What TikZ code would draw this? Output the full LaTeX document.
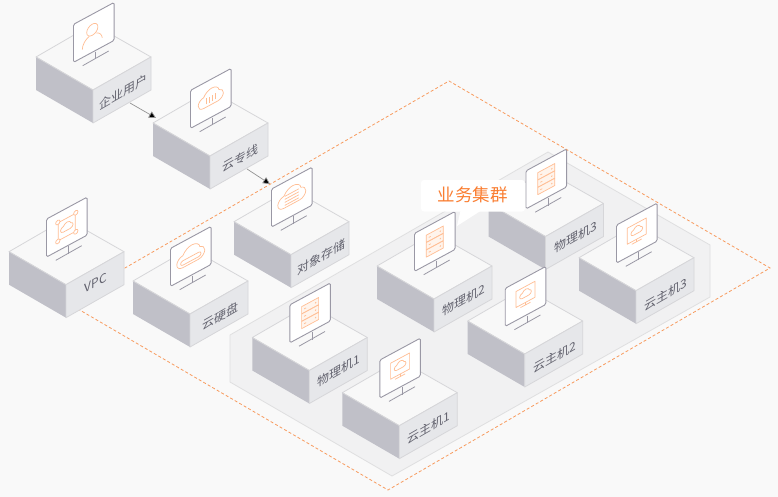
\documentclass[tikz,border=0pt]{standalone}
\usepackage{fontspec}
\newfontfamily\cjk{Noto Sans CJK SC}
\usetikzlibrary{arrows.meta}
\definecolor{bgc}{HTML}{F9F9F9}
\definecolor{regionc}{HTML}{F1F1F2}
\definecolor{regionl}{HTML}{DFDFE0}
\definecolor{topc}{HTML}{F8F8F8}
\definecolor{leftc}{HTML}{C0C0C8}
\definecolor{rightc}{HTML}{E6E7EA}
\definecolor{edgec}{HTML}{D6D6D9}
\definecolor{monc}{HTML}{9A98A5}
\definecolor{iconc}{HTML}{FFBE94}
\definecolor{iconf}{HTML}{FFF4EC}
\definecolor{dashc}{HTML}{F89B5E}
\definecolor{labelc}{HTML}{62626E}
\definecolor{bubc}{HTML}{FA7E32}
\tikzset{
  x=1pt,y=1pt,
  boxedge/.style={draw=edgec,line width=.8pt,line join=round},
  monitor/.style={draw=monc,fill=white,line width=.9pt,rounded corners=1.5pt},
  standline/.style={draw=monc,line width=.8pt},
  icon/.style={draw=iconc,line width=.7pt,line join=round},
  boxlabel/.style={font=\cjk\fontsize{12}{12}\selectfont,text=labelc,inner sep=0pt,transform shape,yslant=.577},
  flow/.style={draw=gray!85,line width=.7pt,-{Triangle[length=7pt,width=7pt,fill=black]}},
  zone/.style={draw=dashc,line width=.8pt,dash pattern=on 3pt off 2.2pt},
}
\newcommand{\cloudicon}[1]{\draw[icon,#1] (-8,-7) .. controls (-12,-7) and (-14,-4) .. (-14,-1) .. controls (-14,2) and (-11,5) .. (-8,5) .. controls (-6,9) and (-2,11) .. (1,11) .. controls (5,11) and (9,8) .. (9,5) .. controls (12,4) and (14,2) .. (14,-1) .. controls (14,-4) and (11,-7) .. (8,-7) -- cycle;}
\newcommand{\usericon}{%
  \draw[icon] (-1.5,3.5) circle (5.6);
  \draw[icon] (-11.5,-11) .. controls (-11.5,-6) and (-8,-2.5) .. (-4.5,-1.5);
  \draw[icon] (2.5,-2) .. controls (5.5,-3) and (8,-6) .. (8.5,-10);
}
\newcommand{\lineicon}{%
  \cloudicon{scale=.9}
  \foreach \u in {-4.5,-1.5,1.5,4.5}{\draw[icon] (\u,-3.5) -- (\u,2.5);}
}
\newcommand{\storeicon}{%
  \cloudicon{}
  \foreach \v in {-4.5,-1.5,1.5,4.5}{\draw[icon] (-7,\v) -- (7,\v);}
}
\newcommand{\vpcicon}{%
  \draw[icon] (-8.5,-9) -- (8.5,-9) -- (8.5,9) -- (-8.5,9) -- cycle;
  \foreach \u/\v in {-9/-9.5,9/-9.5,9/9.5,-9/9.5}{\draw[icon,fill=white] (\u,\v) circle (2.2);}
  \cloudicon{scale=.45}
}
\newcommand{\diskicon}{%
  \cloudicon{}
  \draw[icon] (-8,-4.5) -- (8,-4.5) arc (-90:90:2.2) -- (-8,-.1) arc (90:270:2.2);
}
\newcommand{\servericon}{%
  \foreach \v in {3.6,-3.8,-11.2}{
    \draw[icon,fill=iconf] (-8.5,\v) rectangle (8.5,\v+7.2);
    \draw[icon] (-6,\v+3.6) -- (-4,\v+3.6);
    \fill[iconc] (5.5,\v+3.6) circle (.8);
  }
}
\newcommand{\hosticon}{%
  \draw[icon] (-9.5,-6) rectangle (9.5,10);
  \cloudicon{scale=.42,yshift=6}
  \draw[icon] (0,-6) -- (0,-8.5);
  \draw[icon] (-5,-8.5) -- (5,-8.5);
}
% [label y offset], name, x, y (pixels from the top left), label, icon
\newcommand{\isobox}[6][-35]{%
  \begin{scope}[shift={(#3,-#4)}]
    \filldraw[boxedge,fill=topc] (0,0) -- (57,33) -- (115,0) -- (57,-33) -- cycle;
    \fill[leftc] (0,0) -- (57,-33) -- (57,-66) -- (0,-33) -- cycle;
    \fill[rightc] (57,-33) -- (115,0) -- (115,-33) -- (57,-66) -- cycle;
    \draw[boxedge] (0,0) -- (57,-33) -- (115,0) -- (115,-33) -- (57,-66) -- (57,-33);
    \coordinate (#2-in) at (3,5);
    \coordinate (#2-back) at (36,37.7);
    \coordinate (#2-out) at (94,-46);
    \draw[standline] (59.7,5.3) -- (59.7,-2);
    \draw[standline] (46.7,-8.7) -- (72.7,6);
    \begin{scope}[shift={(57.8,24.6)},yslant=.54]
      \draw[monitor] (-20.3,-19) rectangle (20.3,19);
      #6
    \end{scope}
    \node[boxlabel] (#2) at (87,#1) {#5};
  \end{scope}
}
\begin{document}
\begin{tikzpicture}
\useasboundingbox (0,0) rectangle (778,-497);
\fill[bgc] (0,0) rectangle (778,-497);
% service-cluster slab
\filldraw[draw=regionl,fill=regionc,line width=.8pt,line join=round]
  (230,-335) -- (548,-152) -- (710,-245) -- (710,-297) -- (392,-476) -- (230,-382) -- cycle;
% dashed zone
\coordinate (zl) at (66,-302);
\coordinate (zt) at (449,-81);
\coordinate (zr) at (770,-268);
\coordinate (zb) at (388,-490);
\draw[zone] (zl) -- (zt) -- (zr) -- (zb) -- cycle;
\isobox{user}{36}{57}{企业用户}{\usericon}
\isobox{line}{153}{123}{云专线}{\lineicon}
\draw[flow] (user-out) -- (line-in);
\isobox{store}{234}{221.7}{对象存储}{\storeicon}
\draw[flow] (line-out) -- (store-back);
\isobox[-31]{vpc}{9}{251.7}{VPC}{\vpcicon}
\isobox{disk}{133}{281}{云硬盘}{\diskicon}
\isobox[-33.5]{py3}{488.5}{203.5}{物理机3}{\servericon}
\isobox[-37]{yz3}{579}{257.7}{云主机3}{\hosticon}
\isobox[-34]{py2}{377}{266}{物理机2}{\servericon}
\isobox[-36]{yz2}{467.7}{321}{云主机2}{\hosticon}
\isobox[-33]{py1}{252.3}{337.5}{物理机1}{\servericon}
\isobox{yz1}{342.3}{392.7}{云主机1}{\hosticon}
% callout
\fill[white,rounded corners=3pt] (421,-180) rectangle (525,-211.5);
\fill[white] (460.7,-210) -- (457,-226) -- (482,-210) -- cycle;
\node[font=\cjk\fontsize{17.5}{17.5}\selectfont,text=bubc,inner sep=0pt] (cluster) at (472.5,-195) {业务集群};
\end{tikzpicture}
\end{document}
